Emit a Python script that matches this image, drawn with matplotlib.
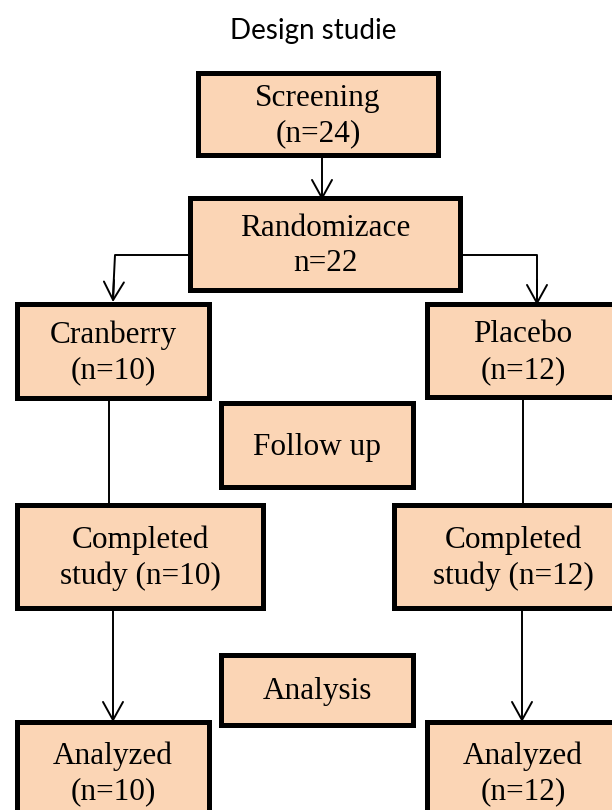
import matplotlib as mpl

mpl.use('Agg')
import matplotlib.pyplot as plt
from matplotlib.patches import Rectangle

# texty v boxech
title = 'Design studie'
box_labels = ['Screening\n(n=24)', 'Randomizace\nn=22',
              'Cranberry\n(n=10)', 'Placebo\n(n=12)', 'Follow up',
              'Completed\nstudy (n=10)', 'Completed\nstudy (n=12)',
              'Analysis', 'Analyzed\n(n=10)', 'Analyzed\n(n=12)']

# rozlozeni boxu v pixelech: (x0, y0, x1, y1)
box_pos = [(198, 73, 438, 155), (190, 198, 460, 290),
           (17, 304, 209, 398), (427, 304, 619, 397), (221, 403, 413, 487),
           (17, 505, 263, 608), (394, 505, 632, 608),
           (221, 655, 413, 725), (17, 722, 209, 822), (427, 722, 619, 822)]

fill = '#FBD5B5'
serif = 'Liberation Serif'

fig = plt.figure(figsize=(6.12, 8.10), dpi=100)
ax = fig.add_axes([0, 0, 1, 1])
ax.set_xlim(0, 612)
ax.set_ylim(810, 0)
ax.axis('off')

fig.text(0.512, 1 - 31 / 810, title, ha='center', va='center',
         fontsize=20, family='Lato')

for lab, (x0, y0, x1, y1) in zip(box_labels, box_pos):
    ax.add_patch(Rectangle((x0, y0), x1 - x0, y1 - y0, facecolor=fill,
                           edgecolor='black', lw=3.6, zorder=2))
    ax.text((x0 + x1) / 2, (y0 + y1) / 2 + 2, lab, ha='center', va='center',
            fontsize=22.5, family=serif, linespacing=1.3, zorder=3)

line_kw = dict(color='black', lw=1.4, zorder=1)
arrow_kw = dict(arrowstyle='->,head_length=0.65,head_width=0.36',
                color='black', lw=1.4, shrinkA=0, shrinkB=0,
                mutation_scale=20)

# spojnice
ax.plot([190, 115, 113], [255, 255, 296], **line_kw)
ax.plot([460, 537, 537], [255, 255, 298], **line_kw)
ax.plot([109, 109], [398, 505], **line_kw)
ax.plot([523, 523], [397, 505], **line_kw)

# sipky
arrows = [((322, 155), (322, 200)), ((114, 280), (113, 302)),
          ((537, 280), (537, 305)), ((113, 608), (113, 722)),
          ((522, 608), (522, 722))]
for start, end in arrows:
    ax.annotate('', xy=end, xytext=start, arrowprops=arrow_kw, zorder=4)

plt.savefig('out.png', dpi=100)
